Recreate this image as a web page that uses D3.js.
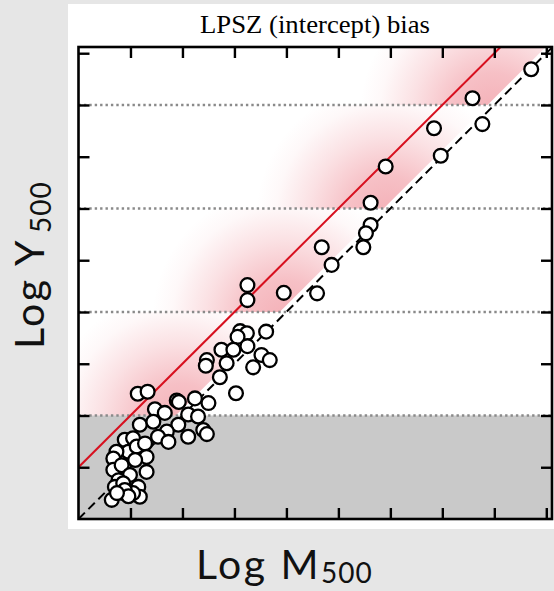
<!DOCTYPE html>
<html>
<head>
<meta charset="utf-8">
<script src="https://cdn.jsdelivr.net/npm/d3@7"></script>
<style>
  html, body { margin: 0; padding: 0; background: #e6e6e6; }
  svg { display: block; }
</style>
</head>
<body>
<svg id="chart" width="554" height="591"></svg>
<script>
// ---------------- data (tick units) ----------------
const titleText = "LPSZ (intercept) bias";
const xTicks = [1, 2, 3, 4, 5, 6, 7, 8, 9];
const yTicks = [1, 2, 3, 4, 5, 6, 7, 8, 9];
const dottedLevels = [2, 4, 6, 8];
const greyLimit = 2;
const bandStarts = [2, 4, 6, 8];
const redIntercept = 1;     // red relation: logY = logM + 1
const logM = [
  8.71, 7.58, 7.77, 6.84, 6.97, 5.91, 5.62, 5.62, 5.53, 5.48,
  4.68, 4.87, 3.95, 4.59, 3.25, 3.25, 3.61, 3.11, 3.24, 3.06,
  3.25, 3.52, 3.68, 3.36, 2.75, 2.98, 2.85, 2.47, 2.45, 2.72,
  3.03, 1.14, 1.33, 1.89, 1.93, 2.24, 2.50, 1.47, 1.66, 2.11,
  2.30, 1.18, 1.44, 1.92, 1.70, 1.53, 1.73, 2.11, 2.40, 2.47,
  0.89, 1.05, 0.96, 0.73, 1.12, 1.28, 1.31, 1.09, 0.67, 0.67,
  0.83, 1.31, 0.99, 0.77, 1.15, 0.86, 0.64, 1.18, 1.05, 0.70,
  0.86, 0.89, 0.96, 0.74
];
const logY = [
  8.69, 8.13, 7.63, 7.55, 7.02, 6.81, 6.11, 5.68, 5.52, 5.25,
  5.25, 4.91, 4.37, 4.36, 4.52, 4.23, 3.62, 3.63, 3.59, 3.52,
  3.34, 3.17, 3.07, 2.93, 3.27, 3.27, 3.01, 3.07, 2.96, 2.74,
  2.43, 2.42, 2.46, 2.29, 2.26, 2.33, 2.24, 2.12, 2.05, 2.02,
  1.98, 1.82, 1.88, 1.82, 1.69, 1.59, 1.49, 1.59, 1.72, 1.64,
  1.53, 1.56, 1.30, 1.30, 1.40, 1.46, 1.20, 1.14, 1.17, 0.95,
  1.04, 0.91, 0.85, 0.75, 0.62, 0.50, 0.37, 0.43, 0.50, 0.62,
  0.69, 0.56, 0.44, 0.50
];

// ---------------- layout ----------------
const svg = d3.select("#chart");
const L = 78.5, R = 552, T = 47, B = 519;
const xMax = 9.11, yMax = 9.12;
const x = d3.scaleLinear().domain([0, xMax]).range([L, R]);
const y = d3.scaleLinear().domain([0, yMax]).range([B, T]);

// white panel
svg.append("rect").attr("x", 68).attr("y", 4).attr("width", 554 - 68).attr("height", 525).attr("fill", "#ffffff");

const defs = svg.append("defs");
defs.append("clipPath").attr("id", "plotclip")
  .append("rect").attr("x", L).attr("y", T).attr("width", R - L).attr("height", B - T);

const plot = svg.append("g").attr("clip-path", "url(#plotclip)");

// grey lower region
plot.append("rect")
  .attr("x", L).attr("y", y(greyLimit))
  .attr("width", R - L).attr("height", B - y(greyLimit))
  .attr("fill", "#c9c9c9");

// pink gradient bands (radial fade from the lower-right corner of each band)
const shift = 0.13;
const rad = 2.55;
bandStarts.forEach((b, i) => {
  const top = Math.min(b + 2, yMax);
  const gid = "pg" + i;
  const g = defs.append("radialGradient").attr("id", gid)
    .attr("gradientUnits", "userSpaceOnUse")
    .attr("cx", x(b - shift + 0.1)).attr("cy", y(b - 0.15))
    .attr("r", x(rad) - x(0));
  const stops = [[0, 0.58], [0.3, 0.46], [0.6, 0.22], [0.85, 0.05], [1, 0]];
  stops.forEach(s => g.append("stop").attr("offset", s[0])
    .attr("stop-color", "rgb(236,118,130)").attr("stop-opacity", s[1]));
  const pts = [[0, b], [b - shift, b], [top - shift, top], [0, top]];
  plot.append("path")
    .attr("d", d3.line().x(d => x(d[0])).y(d => y(d[1]))(pts) + "Z")
    .attr("fill", `url(#${gid})`);
});

// dotted horizontal lines
plot.selectAll("line.dot").data(dottedLevels).join("line")
  .attr("x1", L).attr("x2", R)
  .attr("y1", d => y(d)).attr("y2", d => y(d))
  .attr("stroke", "#8a8a8a").attr("stroke-width", 2.4)
  .attr("stroke-dasharray", "2.4,3");

// one-to-one dashed line
plot.append("line")
  .attr("x1", x(0)).attr("y1", y(0)).attr("x2", x(yMax)).attr("y2", y(yMax))
  .attr("stroke", "#000").attr("stroke-width", 2).attr("stroke-dasharray", "9,5");

// red relation
plot.append("line")
  .attr("x1", x(0)).attr("y1", y(redIntercept))
  .attr("x2", x(yMax - redIntercept)).attr("y2", y(yMax))
  .attr("stroke", "#d7101f").attr("stroke-width", 2);

// points
const pts = logM.map((m, i) => [m, logY[i]]);
plot.selectAll("circle.pt").data(pts).join("circle")
  .attr("cx", d => x(d[0])).attr("cy", d => y(d[1])).attr("r", 6.9)
  .attr("fill", "#fff").attr("stroke", "#000").attr("stroke-width", 2.3);

// frame + inward ticks
svg.append("rect").attr("x", L).attr("y", T).attr("width", R - L).attr("height", B - T)
  .attr("fill", "none").attr("stroke", "#000").attr("stroke-width", 2.6);

const tl = 11;
const axB = d3.axisBottom(x).tickValues(xTicks).tickSize(tl).tickFormat("");
const axT = d3.axisTop(x).tickValues(xTicks).tickSize(tl).tickFormat("");
const axL = d3.axisLeft(y).tickValues(yTicks).tickSize(tl).tickFormat("");
const axR = d3.axisRight(y).tickValues(yTicks).tickSize(tl).tickFormat("");
function styleAx(g) {
  g.select(".domain").remove();
  g.selectAll(".tick line").attr("stroke", "#000").attr("stroke-width", 2.4);
}
svg.append("g").attr("transform", `translate(0,${B - tl})`).call(axB).call(styleAx);
svg.append("g").attr("transform", `translate(0,${T + tl})`).call(axT).call(styleAx);
svg.append("g").attr("transform", `translate(${L + tl},0)`).call(axL).call(styleAx);
svg.append("g").attr("transform", `translate(${R - tl},0)`).call(axR).call(styleAx);

// title
svg.append("text").attr("x", 315).attr("y", 33)
  .attr("text-anchor", "middle")
  .attr("font-family", "'Liberation Serif', 'Times New Roman', serif")
  .attr("font-size", 25).attr("fill", "#000")
  .attr("textLength", 230).attr("lengthAdjust", "spacingAndGlyphs")
  .text(titleText);

// x label
const xl = svg.append("text").attr("x", 196).attr("y", 579)
  .attr("font-family", "Lato, 'Open Sans', sans-serif").attr("font-size", 41)
  .attr("letter-spacing", 2.5).attr("fill", "#111");
xl.append("tspan").text("Log M");
xl.append("tspan").attr("font-size", 28).attr("dy", 4).attr("letter-spacing", 1).text("500");

// y label
const yl = svg.append("text")
  .attr("transform", "translate(44,349) rotate(-90)")
  .attr("font-family", "Lato, 'Open Sans', sans-serif").attr("font-size", 41)
  .attr("letter-spacing", 2.5).attr("fill", "#111");
yl.append("tspan").text("Log Y");
yl.append("tspan").attr("font-size", 28).attr("dy", 7).attr("dx", 5).attr("letter-spacing", 1).text("500");
</script>
</body>
</html>
